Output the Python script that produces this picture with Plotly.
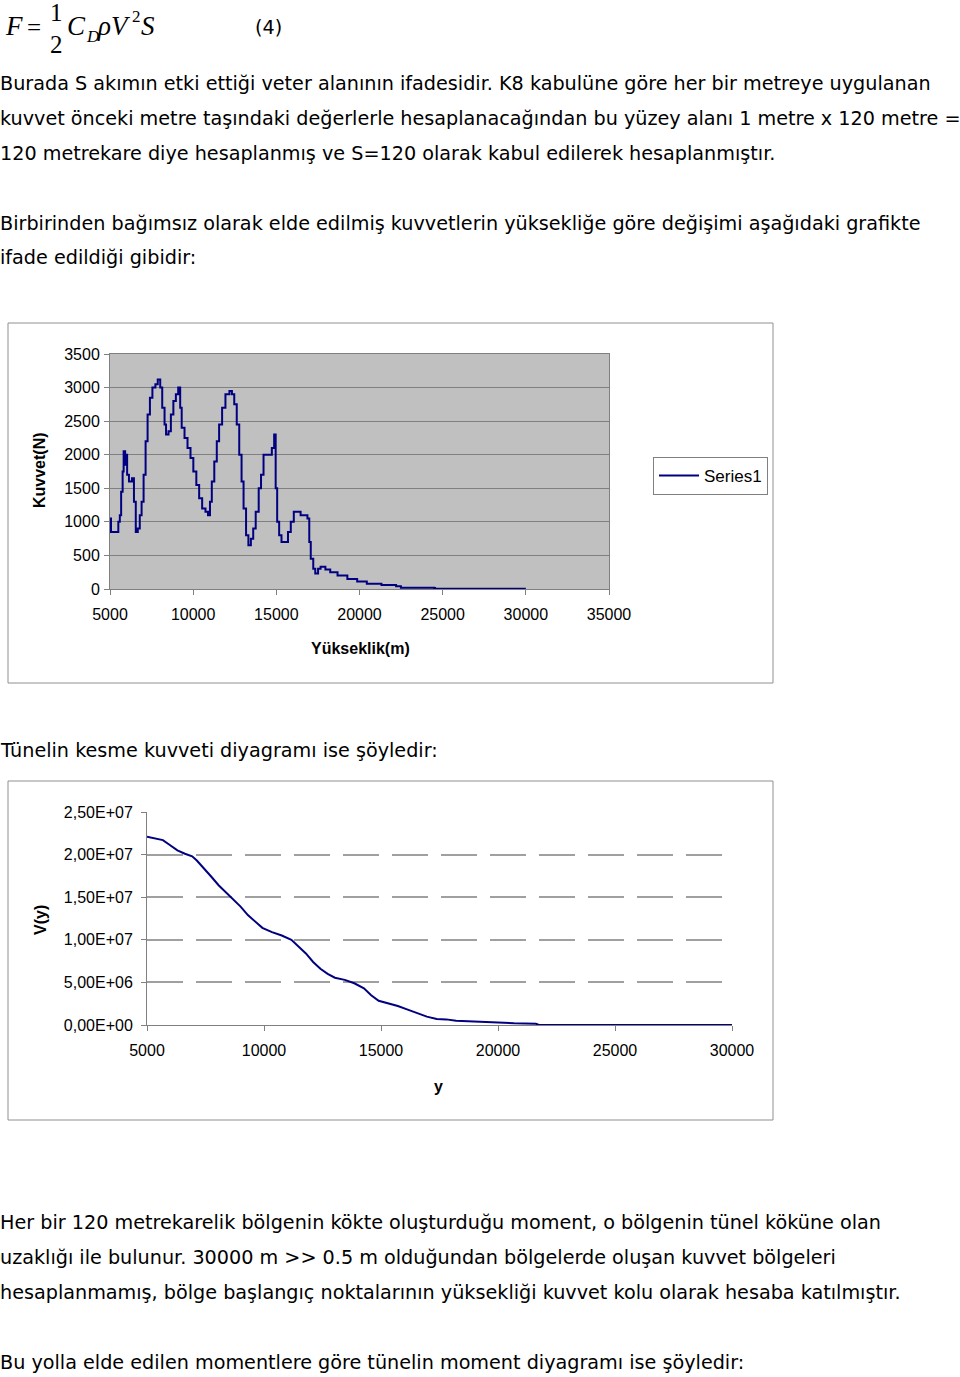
import plotly.graph_objects as go

# ---- data: force vs height (chart 1) ----
heights_force = [
    5000, 5060, 5440, 5500, 5590, 5670, 5760, 5820, 5910, 5970, 6030, 6140,
    6320, 6440, 6550, 6670, 6790, 6900, 7020, 7140, 7260, 7400, 7550, 7730,
    7870, 8020, 8140, 8280, 8370, 8520, 8660, 8810, 8960, 9100, 9220, 9310,
    9480, 9660, 9840, 10010, 10190, 10360, 10540, 10740, 10890, 11010, 11120,
    11270, 11420, 11560, 11740, 11940, 12180, 12330, 12470, 12620, 12770,
    12910, 13030, 13180, 13320, 13470, 13610, 13760, 13940, 14080, 14230,
    14410, 14580, 14730, 14870, 14960, 15050, 15170, 15310, 15520, 15700,
    15870, 16050, 16250, 16460, 16690, 16870, 16980, 17070, 17220, 17340,
    17510, 17660, 17950, 18240, 18680, 19270, 19860, 20440, 21320, 22200,
    22490, 23370, 24490, 24540, 30000,
]
forces = [
    1050, 850, 850, 1000, 1100, 1450, 1750, 2050, 1850, 2000, 1700, 1600,
    1650, 1300, 850, 900, 1100, 1300, 1700, 2200, 2600, 2850, 3000, 3050,
    3120, 3000, 2700, 2450, 2300, 2350, 2600, 2800, 2900, 3000, 2700, 2400,
    2250, 2100, 1950, 1750, 1550, 1350, 1200, 1150, 1100, 1300, 1600,
    1900, 2200, 2450, 2700, 2900, 2950, 2900, 2750, 2450, 2000,
    1600, 1200, 800, 650, 750, 900, 1150, 1500, 1700, 2000,
    2000, 2000, 2100, 2300, 1500, 1000, 800, 700, 700, 850,
    1000, 1150, 1150, 1100, 1100, 1050, 700, 450, 300, 230,
    300, 330, 290, 250, 200, 150, 110, 80, 60, 40,
    20, 20, 15, 5, 5,
]

# ---- data: shear force V(y) (chart 2) ----
heights_shear = [
    5000, 5370, 5680, 5990, 6300, 6620, 6930, 7130, 7440, 7750, 8060, 8370,
    8690, 9000, 9310, 9620, 9930, 10340, 10760, 11170, 11480, 11790, 12100,
    12410, 12720, 13030, 13450, 13860, 14270, 14580, 14900, 15310, 15720,
    16140, 16550, 16960, 17380, 17790, 18210, 19040, 19660, 20690, 21620,
    21730, 30000,
]
shear = [
    2.21e7, 2.19e7, 2.17e7, 2.11e7, 2.05e7, 2.01e7, 1.98e7, 1.93e7, 1.84e7,
    1.74e7, 1.64e7, 1.56e7, 1.48e7, 1.39e7, 1.29e7, 1.21e7, 1.14e7, 1.09e7,
    1.05e7, 1.00e7, 0.92e7, 0.84e7, 0.74e7, 0.66e7, 0.60e7, 0.555e7, 0.53e7,
    0.49e7, 0.43e7, 0.35e7, 0.285e7, 0.254e7, 0.223e7, 0.18e7, 0.137e7,
    0.098e7, 0.07e7, 0.066e7, 0.05e7, 0.039e7, 0.027e7, 0.02e7, 0.015e7,
    0.003e7, 0.0,
]

force_ticks = [0, 500, 1000, 1500, 2000, 2500, 3000, 3500]
force_xticks = [5000, 10000, 15000, 20000, 25000, 30000, 35000]
shear_ticks = [0, 5e6, 1e7, 1.5e7, 2e7, 2.5e7]
shear_ticktext = ["0,00E+00", "5,00E+06", "1,00E+07", "1,50E+07", "2,00E+07", "2,50E+07"]
shear_grid = [5e6, 1e7, 1.5e7, 2e7]
shear_xticks = [5000, 10000, 15000, 20000, 25000, 30000]

W, H = 960, 1377
LINE = "#000080"
TEXT_FONT = "DejaVu Sans"
CHART_FONT = "Liberation Sans"


def px(x):
    return x / W


def py(y):
    return 1 - y / H


fig = go.Figure()
fig.add_trace(go.Scatter(
    x=heights_force, y=forces, mode="lines", name="Series1",
    line=dict(color=LINE, width=2, shape="hv"),
    xaxis="x", yaxis="y", showlegend=True,
))
fig.add_trace(go.Scatter(
    x=heights_shear, y=shear, mode="lines", name="V",
    line=dict(color=LINE, width=2),
    xaxis="x2", yaxis="y2", showlegend=False,
))
# empty trace so the gridline-only axis gets drawn
fig.add_trace(go.Scatter(x=[], y=[], xaxis="x2", yaxis="y3", showlegend=False))

tickfont = dict(family=CHART_FONT, size=16, color="black")

fig.update_layout(
    width=W, height=H,
    margin=dict(l=0, r=0, t=0, b=0, autoexpand=False),
    paper_bgcolor="white",
    plot_bgcolor="white",
    xaxis=dict(
        domain=[px(110), px(609)], range=[5000, 35000], anchor="y",
        tickvals=force_xticks, tickformat="d", ticks="outside", ticklen=5,
        tickcolor="#808080", showline=True, linecolor="#808080", mirror=True,
        showgrid=False, zeroline=False, tickfont=tickfont, ticklabelstandoff=6,
    ),
    yaxis=dict(
        domain=[py(589), py(354)], range=[0, 3500], anchor="x",
        tickvals=force_ticks, ticks="outside", ticklen=5, tickcolor="#808080",
        showline=True, linecolor="#808080", mirror=True,
        showgrid=True, gridcolor="#808080", gridwidth=1,
        zeroline=False, tickfont=tickfont, ticklabelstandoff=1,
    ),
    xaxis2=dict(
        domain=[px(147), px(732)], range=[5000, 30000], anchor="y2",
        tickvals=shear_xticks, tickformat="d", ticks="outside", ticklen=5,
        tickcolor="#808080", showline=True, linecolor="#808080", showgrid=False,
        zeroline=False, tickfont=tickfont, ticklabelstandoff=6,
    ),
    yaxis2=dict(
        domain=[py(1025), py(812)], range=[0, 2.5e7], anchor="x2",
        tickvals=shear_ticks, ticktext=shear_ticktext,
        ticks="outside", ticklen=5, tickcolor="#808080",
        showline=True, linecolor="#808080", showgrid=False,
        zeroline=False, tickfont=tickfont, ticklabelstandoff=5,
    ),
    yaxis3=dict(
        domain=[py(1025), py(812)], range=[0, 2.5e7], anchor="x2",
        overlaying="y2", tickvals=shear_grid, showticklabels=False,
        showgrid=True, gridcolor="#a0a0a0", gridwidth=1.5, griddash="36px,13px",
        zeroline=False, showline=False, ticks="",
    ),
    legend=dict(
        x=px(653), y=py(457), xanchor="left", yanchor="top",
        bgcolor="white", bordercolor="#808080", borderwidth=1,
        font=dict(family=CHART_FONT, size=17, color="black"),
        itemwidth=40, tracegroupgap=0,
    ),
)

# gray plot area for chart 1 and chart frames
fig.add_shape(type="rect", xref="x domain", yref="y domain", x0=0, x1=1, y0=0, y1=1,
              fillcolor="#c0c0c0", line_width=0, layer="below")
for top, bottom in [(323, 683), (781, 1120)]:
    fig.add_shape(type="rect", xref="paper", yref="paper",
                  x0=px(8), x1=px(773), y0=py(bottom), y1=py(top),
                  line=dict(color="#909090", width=1))

annotations = []


def note(text, x, y, size=19.2, family=TEXT_FONT, anchor="left", angle=0, bold=False, italic=False):
    if bold:
        text = "<b>" + text + "</b>"
    if italic:
        text = "<i>" + text + "</i>"
    annotations.append(dict(
        text=text, x=px(x), y=py(y), xref="paper", yref="paper",
        xanchor=anchor, yanchor="middle", showarrow=False, textangle=angle,
        font=dict(family=family, size=size, color="black"),
    ))


# formula (4)
SERIF = "Liberation Serif"
note("F", 3, 26, size=27, family=SERIF, italic=True)
note("=", 25, 27, size=25, family=SERIF)
note("1", 48, 12, size=25, family=SERIF)
note("2", 48, 45, size=25, family=SERIF)
note("C", 65, 26, size=27, family=SERIF, italic=True)
note("D", 84, 36, size=17, family=SERIF, italic=True)
note("ρV", 95, 26, size=27, family=SERIF, italic=True)
note("2", 130, 16, size=17, family=SERIF)
note("S", 139, 26, size=27, family=SERIF, italic=True)
note("(4)", 253, 27)

body_lines = [
    ("Burada S akımın etki ettiği veter alanının ifadesidir. K8 kabulüne göre her bir metreye uygulanan", 83),
    ("kuvvet önceki metre taşındaki değerlerle hesaplanacağından bu yüzey alanı 1 metre x 120 metre =", 118),
    ("120 metrekare diye hesaplanmış ve S=120 olarak kabul edilerek hesaplanmıştır.", 153),
    ("Birbirinden bağımsız olarak elde edilmiş kuvvetlerin yüksekliğe göre değişimi aşağıdaki grafikte", 223),
    ("ifade edildiği gibidir:", 258),
    ("Tünelin kesme kuvveti diyagramı ise şöyledir:", 750),
    ("Her bir 120 metrekarelik bölgenin kökte oluşturduğu moment, o bölgenin tünel köküne olan", 1222),
    ("uzaklığı ile bulunur. 30000 m &gt;&gt; 0.5 m olduğundan bölgelerde oluşan kuvvet bölgeleri", 1257),
    ("hesaplanmamış, bölge başlangıç noktalarının yüksekliği kuvvet kolu olarak hesaba katılmıştır.", 1292),
    ("Bu yolla elde edilen momentlere göre tünelin moment diyagramı ise şöyledir:", 1362),
]
for line, y in body_lines:
    note(line, -2, y)

# axis titles
note("Kuvvet(N)", 40, 470, size=16, family=CHART_FONT, anchor="center", angle=-90, bold=True)
note("Yükseklik(m)", 360, 648, size=16, family=CHART_FONT, anchor="center", bold=True)
note("V(y)", 40, 920, size=16, family=CHART_FONT, anchor="center", angle=-90, bold=True)
note("y", 438, 1086, size=16, family=CHART_FONT, anchor="center", bold=True)

fig.update_layout(annotations=annotations)
# drop the default body margin so the figure sits flush with the window
fig.write_html("out.html", config={"displayModeBar": False},
               post_script="document.body.style.margin='0';")
